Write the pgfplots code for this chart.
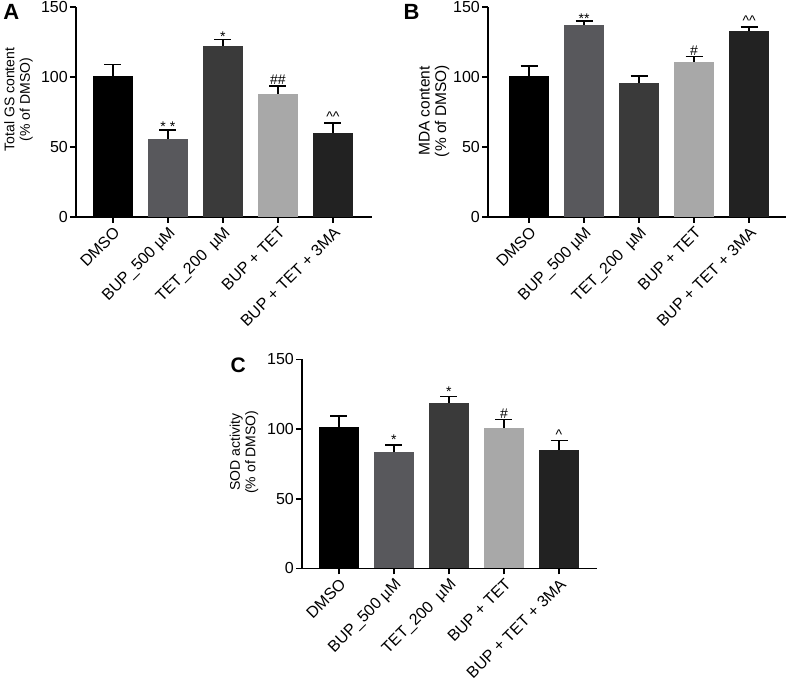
\documentclass[border=0pt]{standalone}
\usepackage{fontspec}
\setmainfont{Liberation Sans}
\usepackage{pgfplots}
\pgfplotsset{compat=1.18}
\definecolor{c1}{RGB}{0,0,0}
\definecolor{c2}{RGB}{88,88,92}
\definecolor{c3}{RGB}{58,58,58}
\definecolor{c4}{RGB}{168,168,168}
\definecolor{c5}{RGB}{34,34,34}
\pgfplotsset{
 panel/.style={
  scale only axis, ymin=0, ymax=150, ytick={0,50,100,150},
  axis x line*=bottom, axis y line*=left,
  axis line style={line width=1.8pt, black},
  tick style={line width=1.5pt, black},
  major tick length=6pt, tick align=outside,
  xtick={0,1,2,3,4},
  xticklabels={DMSO, BUP\_500 µM, TET\_200~~µM, BUP + TET, BUP + TET + 3MA},
  xticklabel style={rotate=45, anchor=north east, font=\fontsize{16}{18}\selectfont, inner sep=2pt},
  yticklabel style={font=\fontsize{16}{18}\selectfont, inner sep=2pt},
  /pgf/number format/assume math mode=true,
  ylabel style={align=center, font=\fontsize{14}{15.5}\selectfont, anchor=center},
  title style={font=\bfseries\fontsize{22}{24}\selectfont, anchor=base west},
  clip=false,
 },
 mybar/.style={ybar, bar width=40pt, bar shift=0pt, fill=#1, draw=none,
   error bars/y dir=plus, error bars/y explicit,
   error bars/error mark=|,
   error bars/error bar style={line width=1.6pt, draw=black},
   error bars/error mark options={line width=1.6pt, draw=black, mark size=8.5pt}},
 lab/.style={only marks, mark=none, nodes near coords, point meta=explicit symbolic,
   nodes near coords style={anchor=south, font=\fontsize{14}{15}\selectfont, inner sep=1pt, black}},
}
\begin{document}
\begin{tikzpicture}
\path[use as bounding box] (0,0) rectangle (788pt,684pt);
% Panel A
\begin{axis}[panel, at={(76pt,467pt)}, anchor=south west, width=296pt, height=210pt,
  xmin=-0.67, xmax=4.71,
  ylabel={Total GS content\\(\% of DMSO)},
  ylabel style={at={(axis description cs:-0.194,0.56)}},
  title={A}, title style={at={(axis description cs:-0.257,0.914)}}]
\addplot[mybar=c1] coordinates {(0,101) +- (0,8)};
\addplot[mybar=c2] coordinates {(1,56) +- (0,6)};
\addplot[mybar=c3] coordinates {(2,122) +- (0,4.7)};
\addplot[mybar=c4] coordinates {(3,88) +- (0,5.7)};
\addplot[mybar=c5] coordinates {(4,60) +- (0,7)};
\addplot[lab, nodes near coords style={yshift=-3pt}] coordinates {(1,62) [* *] (2,126.7) [*]};
\addplot[lab] coordinates {(3,93.7) [\#\#] (4,67) [\textasciicircum\textasciicircum]};
\end{axis}
% Panel B
\begin{axis}[panel, at={(488pt,467pt)}, anchor=south west, width=298pt, height=210pt,
  xmin=-0.745, xmax=4.67,
  ylabel={MDA content\\(\% of DMSO)},
  ylabel style={at={(axis description cs:-0.181,0.505)}, font=\fontsize{15.5}{16.5}\selectfont},
  title={B}, title style={at={(axis description cs:-0.295,0.914)}}]
\addplot[mybar=c1] coordinates {(0,101) +- (0,7)};
\addplot[mybar=c2] coordinates {(1,137) +- (0,2.8)};
\addplot[mybar=c3] coordinates {(2,95.5) +- (0,5.2)};
\addplot[mybar=c4] coordinates {(3,111) +- (0,3.5)};
\addplot[mybar=c5] coordinates {(4,133) +- (0,2.8)};
\addplot[lab, nodes near coords style={yshift=-3pt}] coordinates {(1,139.8) [**]};
\addplot[lab] coordinates {(3,114.5) [\#] (4,135.8) [\textasciicircum\textasciicircum]};
\end{axis}
% Panel C
\begin{axis}[panel, at={(302pt,115.5pt)}, anchor=south west, width=295pt, height=209pt,
  xmin=-0.67, xmax=4.69,
  ylabel={SOD activity\\(\% of DMSO)},
  ylabel style={at={(axis description cs:-0.197,0.557)}},
  title={C}, title style={at={(axis description cs:-0.254,0.911)}, font=\bfseries\fontsize{21}{24}\selectfont}]
\addplot[mybar=c1] coordinates {(0,101.4) +- (0,8)};
\addplot[mybar=c2] coordinates {(1,83.3) +- (0,5.5)};
\addplot[mybar=c3] coordinates {(2,119) +- (0,4.3)};
\addplot[mybar=c4] coordinates {(3,101) +- (0,6)};
\addplot[mybar=c5] coordinates {(4,85.2) +- (0,6.7)};
\addplot[lab, nodes near coords style={yshift=-1pt}] coordinates {(1,88.8) [*] (2,123.3) [*]};
\addplot[lab] coordinates {(3,107) [\#] (4,91.9) [\textasciicircum]};
\end{axis}
\end{tikzpicture}
\end{document}
